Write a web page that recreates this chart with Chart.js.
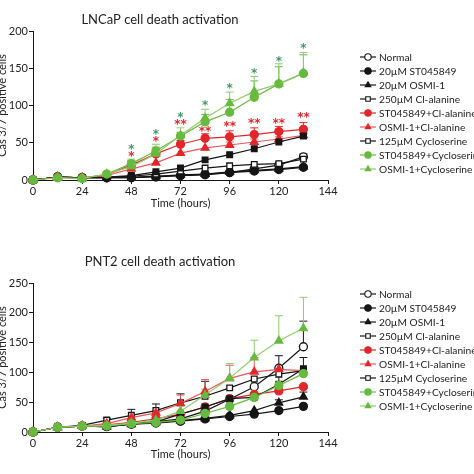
<!DOCTYPE html>
<html>
<head>
<meta charset="utf-8">
<script src="https://cdn.jsdelivr.net/npm/chart.js@4.4.1/dist/chart.umd.min.js"></script>
<style>
html, body { margin: 0; padding: 0; background: #fff; }
#wrap { position: relative; width: 474px; height: 474px; overflow: hidden; }
canvas { position: absolute; left: -6px; }
#lncapChart { top: 0; }
#pnt2Chart { top: 238px; }
</style>
</head>
<body>
<div id="wrap">
  <canvas id="lncapChart" width="480" height="218"></canvas>
  <canvas id="pnt2Chart" width="480" height="236"></canvas>
</div>
<script>
// ********
// * Data *
// ********
const times = [0, 12, 24, 36, 48, 60, 72, 84, 96, 108, 120, 132];
const xTickValues = [0, 24, 48, 72, 96, 120, 144];
const seriesNames = [
    'Normal',
    '20µM ST045849',
    '20µM OSMI-1',
    '250µM Cl-alanine',
    'ST045849+Cl-alanine',
    'OSMI-1+Cl-alanine',
    '125µM Cycloserine',
    'ST045849+Cycloserine',
    'OSMI-1+Cycloserine'
];

// LNCaP
const lncapNormal  = [0, 4, 3, 3, 4, 5, 6, 8, 10, 15, 20, 31];
const lncapST      = [0, 4, 3, 3, 3, 4, 6, 7, 10, 12, 14, 17];
const lncapOSMI    = [0, 4, 3, 3, 3, 5, 7, 8, 11, 13, 15, 18];
const lncapClAla   = [0, 4, 3, 4, 5, 8, 12, 16, 19, 21, 22, 28];
const lncapSTCl    = [0, 4, 3, 7, 20, 35, 48, 56, 58, 61, 65, 68];
const lncapOSMICl  = [0, 4, 3, 6, 15, 23, 36, 43, 47, 51, 55, 60];
const lncapCyclo   = [0, 4, 3, 4, 6, 11, 16, 27, 34, 42, 51, 59];
const lncapSTCyc   = [0, 3, 2, 8, 22, 39, 59, 78, 91, 111, 129, 143];
const lncapOSMICyc = [0, 3, 2, 8, 18, 35, 60, 83, 103, 119, 129, 144];

const lncapNormalErr  = [null, null, null, null, null, null, null, null, null, null, null, 35];
const lncapSTCyErr    = [null, null, null, null, 26, 44, 64, 88, 108, 133, 152, 168];
const lncapOSMICyErr  = [null, null, null, null, 28, 48, 70, 95, 118, 139, 156, 171];
const lncapSTClErr    = [null, null, null, null, 24, 40, 53, 62, 66, 70, 72, 77];
const lncapOSMIClErr  = [null, null, null, null, null, null, null, null, 51, 55, 58, 63];
const lncapCycloErr   = [null, null, null, null, null, null, null, null, null, null, null, 62];

const lncapStarTimes  = [48, 60, 72, 84, 96, 108, 120, 132];
const lncapGreenStars = [45, 65, 88, 103, 127, 147, 163, 180];
const lncapRedStars   = [35, 55, 78, 68, 76, 80, 80, 88];
const lncapRedLabels  = ['*', '*', '**', '**', '**', '**', '**', '**'];

// PNT2
const pnt2Normal  = [0, 8, 10, 10, 14, 17, 22, 35, 55, 76, 107, 143];
const pnt2ST      = [0, 8, 10, 9, 13, 15, 18, 22, 26, 30, 36, 43];
const pnt2OSMI    = [0, 8, 10, 9, 13, 16, 19, 23, 28, 36, 49, 59];
const pnt2ClAla   = [0, 8, 11, 20, 28, 36, 49, 60, 74, 89, 97, 103];
const pnt2STCl    = [0, 8, 10, 12, 16, 22, 30, 42, 56, 63, 69, 76];
const pnt2OSMICl  = [0, 8, 10, 14, 24, 32, 48, 68, 90, 101, 105, 103];
const pnt2Cyclo   = [0, 8, 10, 9, 14, 17, 30, 42, 56, 58, 80, 106];
const pnt2STCyc   = [0, 8, 10, 10, 14, 16, 20, 31, 43, 58, 78, 98];
const pnt2OSMICyc = [0, 8, 10, 11, 15, 20, 35, 62, 90, 125, 153, 174];

const pnt2NormalErr  = [null, null, null, null, null, null, null, null, null, null, null, 186];
const pnt2OSMIErr    = [null, null, null, null, null, null, null, null, null, null, 54, 67];
const pnt2ClAlaErr   = [null, null, null, 23, 38, 47, 64, 85, null, null, null, null];
const pnt2OSMIClErr  = [null, null, null, null, null, null, 62, 88, 112, 125, null, null];
const pnt2CycloErr   = [null, null, null, null, null, null, null, null, null, null, 128, 125];
const pnt2OSMICyErr  = [null, null, null, null, null, null, 45, 72, 115, 154, 195, 226];

// **********
// * Styles *
// **********
const black = '#151515';
const red = '#e3262b';
const green = '#66bb3f';
const lineColors  = [black, black, black, black, red, '#e9585c', black, green, '#8fcd6c'];
const markColors  = [black, black, black, black, red, red, black, green, green];
const pointStyles = ['circle', 'circle', 'triangle', 'rect', 'circle', 'triangle', 'rect', 'circle', 'triangle'];
const openPoints  = [true, false, false, true, false, false, false, false, false];

Chart.defaults.font.family = 'Lato, "Liberation Sans", sans-serif';
Chart.defaults.color = '#222';

function buildDatasets(seriesValues, seriesErrors) {
    return seriesValues.map((values, i) => ({
        label: seriesNames[i],
        data: values.map((v, k) => ({ x: times[k], y: v })),
        errUp: seriesErrors[i] || null,
        borderColor: lineColors[i],
        borderWidth: 1.2,
        pointStyle: pointStyles[i],
        pointRadius: pointStyles[i] === 'triangle' ? 4.5 : 4,
        pointBorderColor: markColors[i],
        pointBackgroundColor: openPoints[i] ? '#fff' : markColors[i],
        pointBorderWidth: 1.3,
        tension: 0,
        clip: false,
        order: 10 - i
    }));
}

// *************
// * Plugins   *
// *************
const figureDraw = {
    id: 'figureDraw',
    beforeDatasetsDraw(chart, args, opts) {
        const ctx = chart.ctx;
        const xs = chart.scales.x, ys = chart.scales.y;
        ctx.save();
        chart.data.datasets.forEach(ds => {
            if (!ds.errUp) return;
            ctx.strokeStyle = ds.borderColor;
            ctx.lineWidth = 1;
            ds.errUp.forEach((e, k) => {
                if (e === null) return;
                const x = xs.getPixelForValue(ds.data[k].x);
                const y0 = ys.getPixelForValue(ds.data[k].y);
                const y1 = ys.getPixelForValue(e);
                ctx.beginPath();
                ctx.moveTo(x, y0);
                ctx.lineTo(x, y1);
                ctx.moveTo(x - 4, y1);
                ctx.lineTo(x + 4, y1);
                ctx.stroke();
            });
        });
        ctx.restore();
    },
    afterDatasetsDraw(chart, args, opts) {
        if (!opts.stars) return;
        const ctx = chart.ctx;
        const xs = chart.scales.x, ys = chart.scales.y;
        ctx.save();
        ctx.font = 'bold 12px "DejaVu Sans"';
        ctx.textAlign = 'center';
        ctx.textBaseline = 'middle';
        opts.stars.forEach(s => {
            ctx.fillStyle = s.color;
            s.values.forEach((v, k) => {
                const x = xs.getPixelForValue(s.times[k]);
                const y = ys.getPixelForValue(v);
                ctx.fillText(s.labels ? s.labels[k] : '*', x, y + 3);
            });
        });
        ctx.restore();
    },
    afterDraw(chart, args, opts) {
        const ctx = chart.ctx;
        ctx.save();
        // title
        ctx.fillStyle = '#222';
        ctx.font = '13px Lato';
        ctx.textAlign = 'center';
        ctx.textBaseline = 'middle';
        ctx.fillText(opts.title, opts.titleX, opts.titleY);
        // legend
        ctx.font = '10.2px Lato';
        ctx.textAlign = 'left';
        chart.data.datasets.forEach((ds, i) => {
            const y = opts.legendY + i * 14;
            ctx.strokeStyle = ds.borderColor;
            ctx.lineWidth = 1.2;
            ctx.beginPath();
            ctx.moveTo(opts.legendX, y);
            ctx.lineTo(opts.legendX + 16, y);
            ctx.stroke();
            ctx.fillStyle = (openPoints[i] || pointStyles[i] === 'rect') ? '#fff' : ds.pointBorderColor;
            ctx.strokeStyle = ds.pointBorderColor;
            ctx.lineWidth = 1.1;
            Chart.helpers.drawPoint(ctx, { pointStyle: ds.pointStyle, radius: 3.2, rotation: 0, borderWidth: 1.1 }, opts.legendX + 8, y);
            ctx.fillStyle = '#222';
            ctx.fillText(ds.label, opts.legendX + 19, y + 0.5);
        });
        ctx.restore();
    }
};

function makeChart(canvasId, datasets, yMax, layout, extra) {
    return new Chart(document.getElementById(canvasId), {
        type: 'line',
        data: { datasets: datasets },
        plugins: [figureDraw],
        options: {
            responsive: false,
            animation: false,
            layout: { padding: { left: 0, top: layout.top, right: 146, bottom: 0 } },
            plugins: {
                legend: { display: false },
                tooltip: { enabled: false },
                figureDraw: extra
            },
            scales: {
                x: {
                    type: 'linear',
                    min: 0,
                    max: 144,
                    afterBuildTicks: s => { s.ticks = xTickValues.map(v => ({ value: v })); },
                    afterFit: s => { s.height = layout.xHeight; },
                    grid: { drawOnChartArea: false, tickLength: 4, color: black, tickColor: black },
                    border: { color: black, width: 1 },
                    ticks: { font: { size: 11 }, padding: 1, color: '#222' },
                    title: { display: true, text: 'Time (hours)', font: { size: 11 }, color: '#222', padding: { top: 0, bottom: layout.xTitlePad } }
                },
                y: {
                    min: 0,
                    max: yMax,
                    ticks: { stepSize: 50, font: { size: 11 }, padding: 1, color: '#222' },
                    afterFit: s => { s.width = 39; },
                    grid: { drawOnChartArea: false, tickLength: 4, color: black, tickColor: black },
                    border: { color: black, width: 1 },
                    title: { display: true, text: 'Cas 3/7 positive cells', font: { size: 11 }, color: '#222', padding: { top: 2, bottom: 0 } }
                }
            }
        }
    });
}

const lncapDatasets = buildDatasets(
    [lncapNormal, lncapST, lncapOSMI, lncapClAla, lncapSTCl, lncapOSMICl, lncapCyclo, lncapSTCyc, lncapOSMICyc],
    [lncapNormalErr, null, null, null, lncapSTClErr, lncapOSMIClErr, lncapCycloErr, lncapSTCyErr, lncapOSMICyErr]
);
const pnt2Datasets = buildDatasets(
    [pnt2Normal, pnt2ST, pnt2OSMI, pnt2ClAla, pnt2STCl, pnt2OSMICl, pnt2Cyclo, pnt2STCyc, pnt2OSMICyc],
    [pnt2NormalErr, null, pnt2OSMIErr, pnt2ClAlaErr, null, pnt2OSMIClErr, pnt2CycloErr, null, pnt2OSMICyErr]
);

makeChart('lncapChart', lncapDatasets, 200,
    { top: 31, xHeight: 38, xTitlePad: 8 },
    {
        title: 'LNCaP cell death activation', titleX: 166, titleY: 20,
        legendX: 366, legendY: 57,
        stars: [
            { times: lncapStarTimes, values: lncapGreenStars, color: '#3f9a68' },
            { times: lncapStarTimes, values: lncapRedStars, labels: lncapRedLabels, color: '#e3262b' }
        ]
    });

makeChart('pnt2Chart', pnt2Datasets, 250,
    { top: 45, xHeight: 42, xTitlePad: 13 },
    {
        title: 'PNT2 cell death activation', titleX: 166, titleY: 24,
        legendX: 366, legendY: 56
    });
</script>
</body>
</html>
